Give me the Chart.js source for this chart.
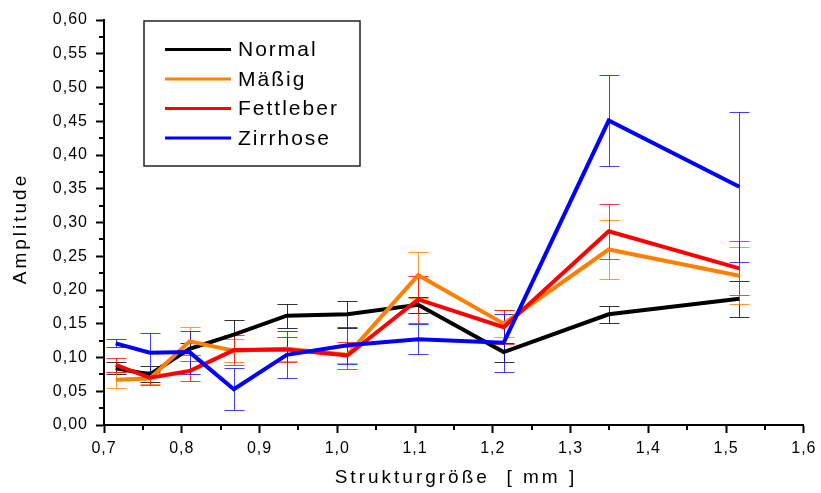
<!DOCTYPE html>
<html>
<head>
<meta charset="utf-8">
<script src="https://cdn.jsdelivr.net/npm/chart.js"></script>
<style>
  body { margin: 0; background: #fff; }
  #wrap { width: 821px; height: 493px; position: relative; }
</style>
</head>
<body>
<div id="wrap"><canvas id="myChart"></canvas></div>
<script>
const sizes = [0.715, 0.759, 0.810, 0.867, 0.935, 1.013, 1.104, 1.214, 1.349, 1.517];

const normalValues = [0.084, 0.075, 0.113, 0.134, 0.162, 0.164, 0.178, 0.108, 0.164, 0.187];
const normalErrors = [0.009, 0.012, 0.009, 0.022, 0.018, 0.020, 0.012, 0.014, 0.013, 0.027];

const maessigValues = [0.067, 0.069, 0.124, 0.110, 0.113, 0.104, 0.222, 0.150, 0.260, 0.221];
const maessigErrors = [0.012, 0.008, 0.021, 0.017, 0.018, 0.012, 0.034, 0.020, 0.043, 0.042];

const fettValues = [0.089, 0.070, 0.080, 0.111, 0.112, 0.103, 0.186, 0.145, 0.287, 0.232];
const fettErrors = [0.011, 0.010, 0.015, 0.022, 0.019, 0.020, 0.035, 0.025, 0.041, 0.040];

const zirrValues = [0.121, 0.107, 0.108, 0.053, 0.104, 0.118, 0.127, 0.122, 0.451, 0.353];
const zirrErrors = [0.006, 0.029, 0.032, 0.031, 0.035, 0.027, 0.022, 0.043, 0.067, 0.111];

const seriesLabels = ['Normal', 'Mäßig', 'Fettleber', 'Zirrhose'];
const seriesColors = ['#000000', '#ff8000', '#ff0000', '#0000ff'];
const barColors = ['rgba(0,0,0,0.8)', 'rgba(255,128,0,0.8)', 'rgba(255,0,0,0.75)', 'rgba(0,0,255,0.75)'];

const xTitle = 'Strukturgröße  [ mm ]';
const yTitle = 'Amplitude';

const fontFamily = '"Liberation Sans", Arial, sans-serif';

function points(values) {
    return values.map((v, i) => ({ x: sizes[i], y: v }));
}

function makeDataset(idx, values, errors) {
    return {
        label: seriesLabels[idx],
        data: points(values),
        errors: errors,
        barColor: barColors[idx],
        borderColor: seriesColors[idx],
        backgroundColor: seriesColors[idx],
        borderWidth: 4,
        pointRadius: 0,
        tension: 0,
        fill: false,
        order: 3 - idx
    };
}

// error bars behind the lines
const errorBars = {
    id: 'errorBars',
    beforeDatasetsDraw(chart) {
        const { ctx, scales: { x, y } } = chart;
        ctx.save();
        ctx.lineWidth = 1;
        chart.data.datasets.forEach(ds => {
            ctx.strokeStyle = ds.barColor;
            ds.data.forEach((p, i) => {
                const px = Math.round(x.getPixelForValue(p.x)) + 0.5;
                const top = Math.round(y.getPixelForValue(p.y + ds.errors[i])) + 0.5;
                const bot = Math.round(y.getPixelForValue(p.y - ds.errors[i])) + 0.5;
                ctx.beginPath();
                ctx.moveTo(px, top);
                ctx.lineTo(px, bot);
                ctx.moveTo(px - 10, top);
                ctx.lineTo(px + 10, top);
                ctx.moveTo(px - 10, bot);
                ctx.lineTo(px + 10, bot);
                ctx.stroke();
            });
        });
        ctx.restore();
    }
};

// minor ticks, axis titles and the boxed legend
const extras = {
    id: 'extras',
    beforeDraw(chart) {
        chart.ctx.letterSpacing = '1px';
    },
    afterDraw(chart) {
        const { ctx, chartArea: area, scales: { x, y } } = chart;
        ctx.save();
        ctx.strokeStyle = '#000';
        ctx.lineWidth = 2;
        ctx.beginPath();
        for (let v = 0.025; v < 0.6; v += 0.05) {
            const py = Math.round(y.getPixelForValue(v));
            ctx.moveTo(area.left - 5, py);
            ctx.lineTo(area.left, py);
        }
        for (let v = 0.75; v < 1.6; v += 0.1) {
            const px = Math.round(x.getPixelForValue(v));
            ctx.moveTo(px, area.bottom);
            ctx.lineTo(px, area.bottom + 5);
        }
        ctx.stroke();

        ctx.fillStyle = '#000';
        ctx.letterSpacing = '3px';
        ctx.font = '19px ' + fontFamily;
        ctx.textAlign = 'center';
        ctx.textBaseline = 'middle';
        ctx.fillText(xTitle, (area.left + area.right) / 2 + 2, 478);
        ctx.save();
        ctx.translate(21, (area.top + area.bottom) / 2 + 6);
        ctx.rotate(-Math.PI / 2);
        ctx.fillText(yTitle, 0, 0);
        ctx.restore();

        // legend box
        const lx = area.left + 40, ly = area.top + 1;
        ctx.lineWidth = 1.5;
        ctx.strokeStyle = '#222';
        ctx.strokeRect(lx, ly, 216, 145);
        ctx.letterSpacing = '2px';
        ctx.font = '21px ' + fontFamily;
        ctx.textAlign = 'left';
        chart.data.datasets.forEach((ds, i) => {
            const ry = ly + 28.5 + i * 29.5;
            ctx.strokeStyle = ds.borderColor;
            ctx.lineWidth = 3;
            ctx.beginPath();
            ctx.moveTo(lx + 21, ry);
            ctx.lineTo(lx + 87, ry);
            ctx.stroke();
            ctx.fillText(ds.label, lx + 94, ry + 1);
        });
        ctx.restore();
    }
};

Chart.defaults.font.family = fontFamily;
Chart.defaults.font.size = 16;
Chart.defaults.color = '#000';

const ctx = document.getElementById('myChart').getContext('2d');
const myChart = new Chart(ctx, {
    type: 'line',
    data: {
        datasets: [
            makeDataset(0, normalValues, normalErrors),
            makeDataset(1, maessigValues, maessigErrors),
            makeDataset(2, fettValues, fettErrors),
            makeDataset(3, zirrValues, zirrErrors)
        ]
    },
    plugins: [errorBars, extras],
    options: {
        responsive: true,
        maintainAspectRatio: false,
        animation: false,
        layout: {
            padding: { left: 0, right: 12, top: 20, bottom: 0 }
        },
        plugins: {
            legend: { display: false },
            tooltip: { enabled: false }
        },
        scales: {
            x: {
                type: 'linear',
                min: 0.7,
                max: 1.6,
                afterFit: s => { s.height = 68; },
                border: { color: '#000', width: 2 },
                grid: {
                    drawOnChartArea: false,
                    tickLength: 8,
                    tickColor: '#000',
                    tickWidth: 2
                },
                ticks: {
                    stepSize: 0.1,
                    padding: 6,
                    maxRotation: 0,
                    callback: v => v.toFixed(1).replace('.', ',')
                }
            },
            y: {
                min: 0,
                max: 0.6,
                afterFit: s => { s.width = 104; },
                border: { color: '#000', width: 2 },
                grid: {
                    drawOnChartArea: false,
                    tickLength: 8,
                    tickColor: '#000',
                    tickWidth: 2
                },
                ticks: {
                    stepSize: 0.05,
                    padding: 8,
                    callback: v => v.toFixed(2).replace('.', ',')
                }
            }
        }
    }
});
</script>
</body>
</html>
